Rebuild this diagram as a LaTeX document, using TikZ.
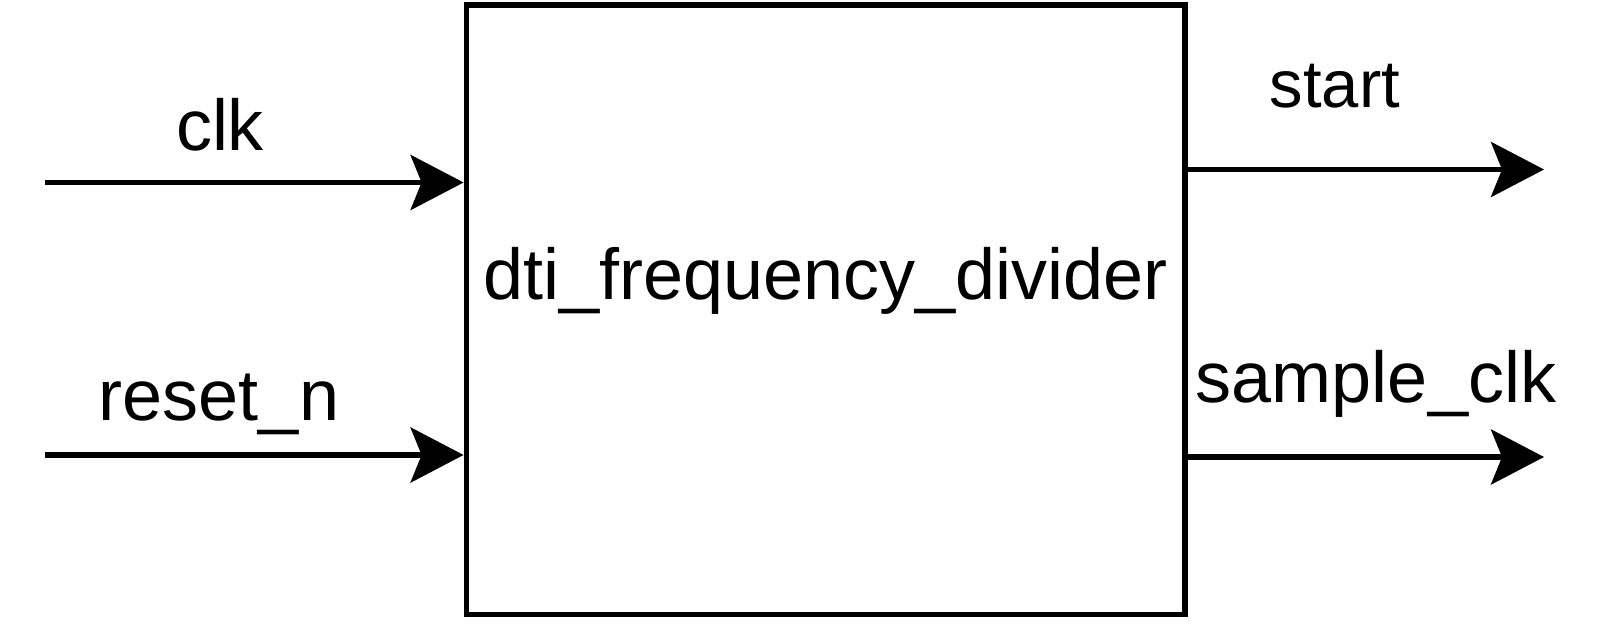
\documentclass[tikz,border=0pt]{standalone}
\usepackage{fontspec}
\setmainfont{Liberation Sans}
\usetikzlibrary{arrows.meta,positioning}

\tikzset{
  block/.style={draw, line width=2.9pt, inner sep=0pt,
    minimum width=359.25pt, minimum height=304.75pt},
  port/.style={line width=2.7pt,
    -{Stealth[length=26.5pt, width=27.5pt, inset=5.5pt]}},
  portname/.style={anchor=base, inner sep=0pt, font=\fontsize{36pt}{40pt}\selectfont}
}

\begin{document}
\begin{tikzpicture}[x=0.5pt, y=-0.5pt]
  \useasboundingbox (0,0) rectangle (1620,624);

  %draw box
  \node[block] (divider) at (825.75,309.75) {};
  \node[portname] (divname) at (825.5,300) {dti\_frequency\_divider};

  %draw inputs
  \coordinate (clkin) at (45,182.5);
  \coordinate (resetin) at (45,455);
  \draw[port] (clkin) -- (divider.west |- clkin);
  \draw[port] (resetin) -- (divider.west |- resetin);
  \node[portname] (clk) at (220,151) {clk};
  \node[portname] (reset) at (219,421) {reset\_n};

  %draw outputs
  \coordinate (startout) at (1544,169.5);
  \coordinate (sampleout) at (1544,457);
  \draw[port] (divider.east |- startout) -- (startout);
  \draw[port] (divider.east |- sampleout) -- (sampleout);
  \node[portname, font=\fontsize{33.5pt}{38pt}\selectfont] (start) at (1335,107.5) {start};
  \node[portname] (sample) at (1376,403) {sample\_clk};
\end{tikzpicture}
\end{document}
